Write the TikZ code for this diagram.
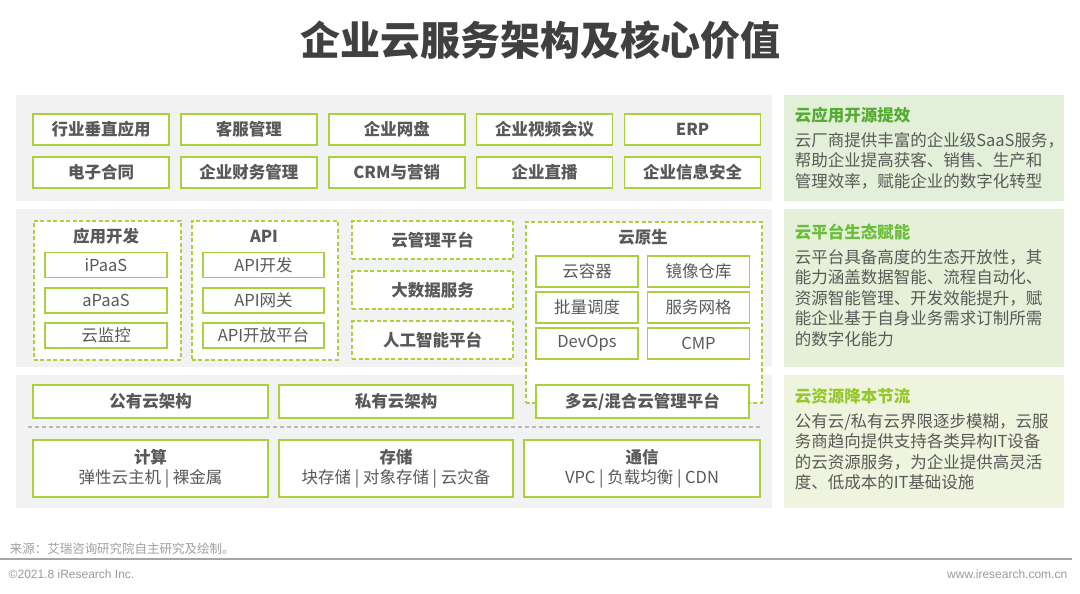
\documentclass[tikz,border=0pt]{standalone}
\usepackage{fontspec}
\setmainfont{Noto Sans CJK SC}
\newfontfamily\footfont{Liberation Sans}
\definecolor{frameg}{RGB}{170,208,62}
\definecolor{bggray}{RGB}{242,242,242}
\definecolor{txt}{RGB}{89,89,89}
\definecolor{ttl}{RGB}{64,64,64}
\definecolor{noteA}{RGB}{226,240,217}
\definecolor{noteB}{RGB}{229,240,217}
\definecolor{noteC}{RGB}{238,244,221}
\definecolor{ttlA}{RGB}{84,172,50}
\definecolor{ttlB}{RGB}{108,189,60}
\definecolor{ttlC}{RGB}{150,200,45}

\begin{document}
\begin{tikzpicture}[x=1pt,y=-1pt,line width=1.5pt,
  appbox/.style={draw=frameg,fill=white,text=txt,inner sep=0pt,
    font=\fontsize{16.5}{20}\selectfont\bfseries},
  subbox/.style={draw=frameg,fill=white,text=txt,inner sep=0pt,line width=1.3pt,
    font=\fontsize{16.5}{20}\selectfont},
  grp/.style={draw=frameg,fill=white,line width=1.5pt,dash pattern=on 4pt off 2.5pt,
    text=txt,inner sep=0pt,font=\fontsize{16.5}{20}\selectfont\bfseries},
  grptitle/.style={text=txt,font=\fontsize{16.5}{20}\selectfont\bfseries},
  notettl/.style={anchor=west,inner sep=0pt,font=\fontsize{16.5}{20}\selectfont\bfseries},
  notebody/.style={anchor=north west,inner sep=0pt,align=left,text=txt,
    font=\fontsize{16.5}{20.5}\selectfont}]
\useasboundingbox (0,0) rectangle (1080,594);
% ---------- 标题 ----------
\node[font=\fontsize{40}{44}\selectfont\bfseries,text=ttl] (title) at (540,40) {企业云服务架构及核心价值};
% ---------- 三层底色 ----------
\fill[bggray] (16,95) rectangle (772,201);
\fill[bggray] (16,209) rectangle (772,367);
\fill[bggray] (16,375) rectangle (772,508);
% ---------- SaaS 层 ----------
\foreach \t [count=\i] in {行业垂直应用,客服管理,企业网盘,企业视频会议,ERP}
  \node[appbox,minimum width=136pt,minimum height=31pt] (saasA\i) at (101+147.9*\i-147.9,129.5) {\t};
\foreach \t [count=\i] in {电子合同,企业财务管理,CRM与营销,企业直播,企业信息安全}
  \node[appbox,minimum width=136pt,minimum height=31pt] (saasB\i) at (101+147.9*\i-147.9,172.5) {\t};
% ---------- PaaS 层 ----------
% 应用开发
\node[grp,minimum width=147pt,minimum height=139pt,anchor=north west] (devgrp) at (33,220) {};
\node[grptitle] (devttl) at (106,236) {应用开发};
\foreach \t/\y [count=\i] in {iPaaS/265,aPaaS/300.5,云监控/335.5}
  \node[subbox,minimum width=122pt,minimum height=25pt] (dev\i) at (106,\y) {\t};
% API
\node[grp,minimum width=146pt,minimum height=139pt,anchor=north west] (apigrp) at (191,220) {};
\node[grptitle] (apittl) at (264,236) {API};
\foreach \t/\y [count=\i] in {API开发/265,API网关/300.5,API开放平台/335.5}
  \node[subbox,minimum width=121pt,minimum height=25pt] (api\i) at (263.5,\y) {\t};
% 平台服务
\foreach \t/\y [count=\i] in {云管理平台/240,大数据服务/290,人工智能平台/340}
  \node[grp,minimum width=161pt,minimum height=38pt] (plat\i) at (432.5,\y) {\t};
% 云原生（向下延伸至 IaaS 层）
\node[grp,minimum width=236pt,minimum height=181pt,anchor=north west] (cngrp) at (525,221) {};
\node[grptitle] (cnttl) at (643,237) {云原生};
\foreach \t/\y [count=\i] in {云容器/271.5,批量调度/307.5,DevOps/343.5}
  \node[subbox,minimum width=102pt,minimum height=31pt] (cnL\i) at (587,\y) {\t};
\foreach \t/\y [count=\i] in {镜像仓库/271.5,服务网格/307.5,CMP/343.5}
  \node[subbox,minimum width=102pt,minimum height=31pt] (cnR\i) at (698.5,\y) {\t};
% ---------- IaaS 层 ----------
\node[appbox,minimum width=235pt,minimum height=33pt] (pub) at (150.5,401.5) {公有云架构};
\node[appbox,minimum width=234pt,minimum height=33pt] (priv) at (396,401.5) {私有云架构};
\node[appbox,minimum width=213pt,minimum height=33pt] (multi) at (642.5,401.5) {多云/混合云管理平台};
\draw[gray!55,line width=1.2pt,dash pattern=on 4pt off 3pt] (28,427) -- (760,427);
\node[appbox,minimum width=235pt,minimum height=57pt,align=center] (comp) at (150.5,468.5)
  {计算\\\mdseries 弹性云主机 | 裸金属};
\node[appbox,minimum width=234pt,minimum height=57pt,align=center] (stor) at (396,468.5)
  {存储\\\mdseries 块存储 | 对象存储 | 云灾备};
\node[appbox,minimum width=236pt,minimum height=57pt,align=center] (net) at (642,468.5)
  {通信\\\mdseries VPC | 负载均衡 | CDN};
% ---------- 右侧价值说明 ----------
\fill[noteA] (784,95) rectangle (1064,201);
\node[notettl,text=ttlA] (valA) at (794,115) {云应用开源提效};
\node[notebody] (valAtxt) at (794,131.5) {云厂商提供丰富的企业级SaaS服务，\\帮助企业提高获客、销售、生产和\\管理效率，赋能企业的数字化转型};
\fill[noteB] (784,209) rectangle (1064,367);
\node[notettl,text=ttlB] (valB) at (794,232) {云平台生态赋能};
\node[notebody] (valBtxt) at (794,248.5) {云平台具备高度的生态开放性，其\\能力涵盖数据智能、流程自动化、\\资源智能管理、开发效能提升，赋\\能企业基于自身业务需求订制所需\\的数字化能力};
\fill[noteC] (784,375) rectangle (1064,508);
\node[notettl,text=ttlC] (valC) at (794,396) {云资源降本节流};
\node[notebody] (valCtxt) at (794,412.5) {公有云/私有云界限逐步模糊，云服\\务商趋向提供支持各类异构IT设备\\的云资源服务，为企业提供高灵活\\度、低成本的IT基础设施};
% ---------- 页脚 ----------
\node[anchor=west,inner sep=0pt,text=gray!75,font=\fontsize{12.5}{14}\selectfont] (src) at (9,549) {来源：艾瑞咨询研究院自主研究及绘制。};
\draw[gray!70,line width=1.6pt] (0,559) -- (1072,559);
\node[anchor=west,inner sep=0pt,text=gray!80,font=\footfont\fontsize{12}{14}\selectfont] (copy) at (8,574) {©2021.8 iResearch Inc.};
\node[anchor=east,inner sep=0pt,text=gray!80,font=\footfont\fontsize{12}{14}\selectfont] (web) at (1068,574) {www.iresearch.com.cn};
\end{tikzpicture}
\end{document}
